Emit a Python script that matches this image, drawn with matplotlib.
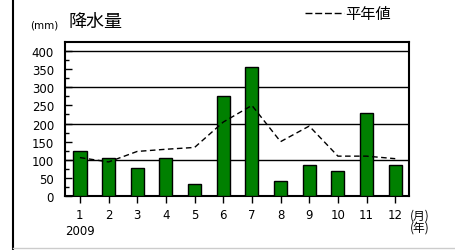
import numpy as np
from matplotlib import pyplot as plt
from matplotlib.lines import Line2D

plt.rcParams['font.family'] = ['DejaVu Sans', 'Noto Sans CJK JP']

months = [1, 2, 3, 4, 5, 6, 7, 8, 9, 10, 11, 12]
month_labels = ['1\n2009', '2', '3', '4', '5', '6', '7', '8', '9', '10', '11', '12']
rainfall = [124, 106, 77, 106, 34, 276, 357, 41, 86, 68, 230, 86]
normal = [106, 94, 123, 129, 134, 204, 250, 150, 193, 110, 110, 103]

W, H = 455, 251
fig = plt.figure(figsize=(W / 100, H / 100), dpi=100)

ax = fig.add_axes([65 / W, 1 - 197 / H, 344 / W, 154 / H])
ax.bar(months, rainfall, width=0.46, color='#008000', edgecolor='black', linewidth=1.0, zorder=3)
ax.plot(months, normal, color='black', linestyle=(0, (4, 2.5)), linewidth=1.0, zorder=4)

for g in [100, 200, 300, 400]:
    ax.axhline(g, color='black', linewidth=1.0, zorder=1)

ax.set_xlim(0.48, 12.48)
ax.set_ylim(0, 425)
ax.set_yticks(np.arange(0, 401, 50))
ax.set_yticks(np.arange(0, 401, 25), minor=True)
ax.set_xticks(months)
ax.set_xticklabels(month_labels, fontsize=8.5, linespacing=1.3)
ax.tick_params(axis='y', direction='in', length=5, width=1, pad=8, labelsize=8.5)
ax.tick_params(axis='y', which='minor', direction='in', length=3, width=1)
ax.tick_params(axis='x', direction='out', length=5, width=1, pad=4)
for s in ax.spines.values():
    s.set_linewidth(1.5)

fig.text(410 / W, 1 - 222 / H, '(月)\n(年)', fontsize=8.5, va='center', ha='left',
         family=['Noto Sans CJK JP', 'DejaVu Sans'], linespacing=0.95)
fig.text(30 / W, 1 - 25 / H, '(mm)', fontsize=7.5, va='center', ha='left')
fig.text(69 / W, 1 - 22 / H, '降水量', fontsize=13, va='center', ha='left',
         family=['Noto Sans CJK JP', 'DejaVu Sans'])

# legend for the normal line
fig.add_artist(Line2D([305 / W, 344 / W], [1 - 14 / H, 1 - 14 / H], color='black',
                      linewidth=1.0, linestyle=(0, (5, 2))))
fig.text(345 / W, 1 - 14 / H, '平年値', fontsize=11, va='center', ha='left',
         family=['Noto Sans CJK JP', 'DejaVu Sans'])

# frame lines of the panel
fig.add_artist(Line2D([13 / W, 13 / W], [1 - 250 / H, 1], color='black', linewidth=1.5))
fig.add_artist(Line2D([13 / W, 1], [1 - 249 / H, 1 - 249 / H], color='#cccccc', linewidth=1.0))

fig.savefig('out.png', dpi=100)
